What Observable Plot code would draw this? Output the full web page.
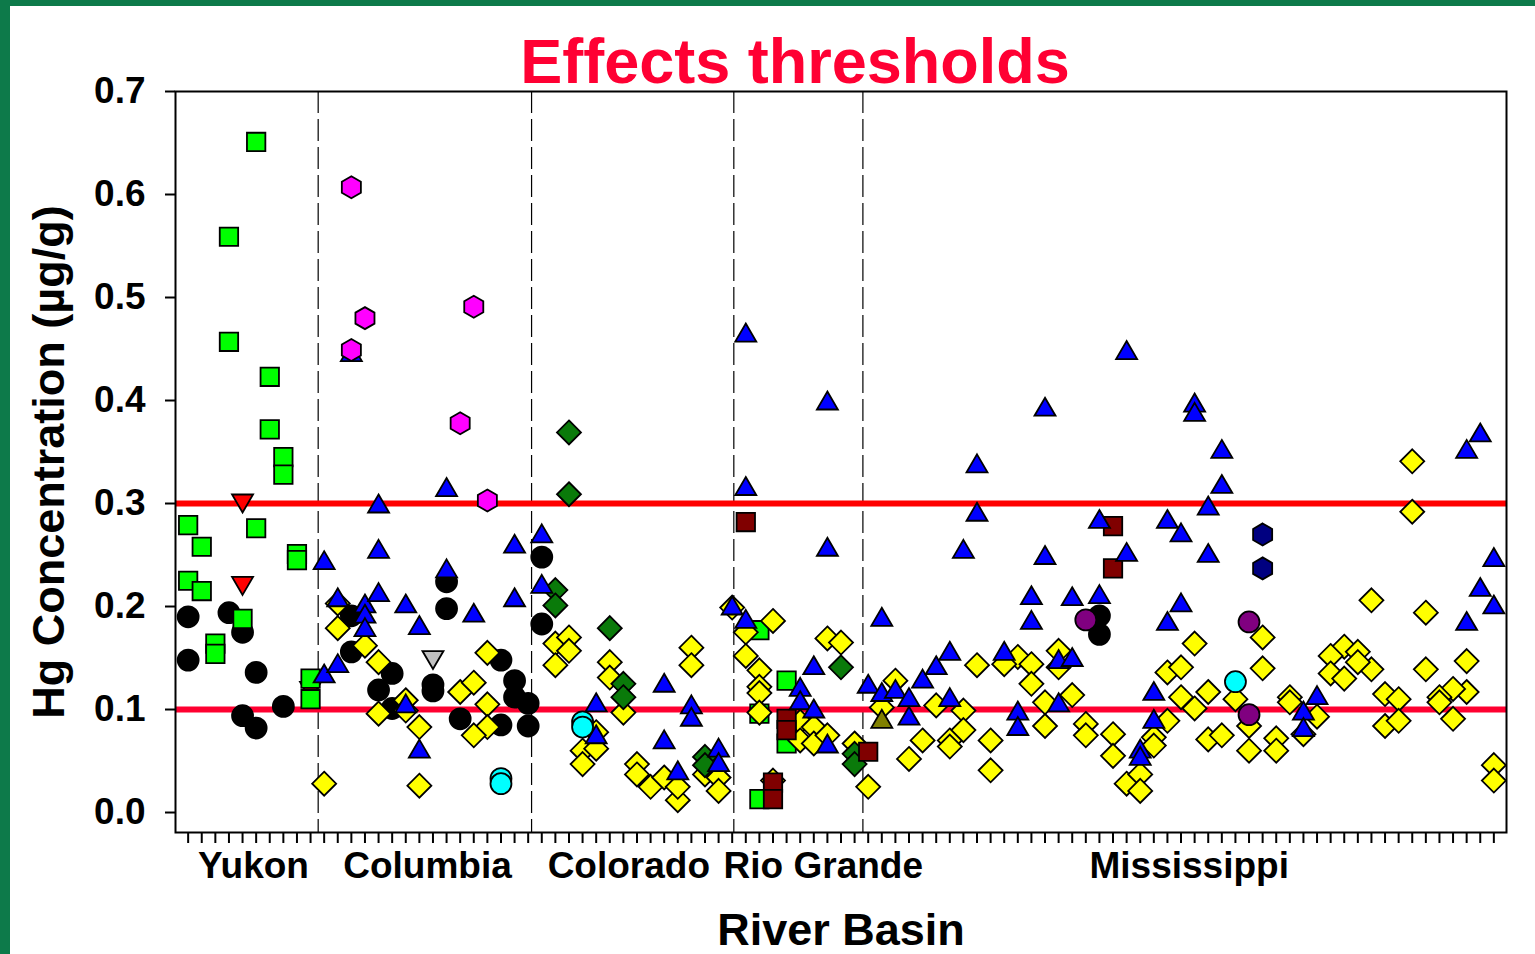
<!DOCTYPE html>
<html>
<head>
<meta charset="utf-8">
<script src="https://cdn.jsdelivr.net/npm/d3@7"></script>
<script src="https://cdn.jsdelivr.net/npm/@observablehq/plot@0.6"></script>
<style>
  html, body { margin: 0; padding: 0; background: #fff; overflow: hidden; }
  #wrap { position: relative; width: 1535px; height: 954px; }
  #wrap svg { display: block; }
  .bar { position: absolute; background: #0d7a4a; }
</style>
</head>
<body>
<div id="wrap">
  <div class="bar" style="left:0;top:0;width:1535px;height:6px;"></div>
  <div class="bar" style="left:0;top:0;width:10px;height:954px;"></div>
</div>
<script>
// ---- Data (site index along the x axis, Hg concentration in µg/g) ----
const basinNames = ["Yukon", "Columbia", "Colorado", "Rio Grande", "Mississippi"];
const basinLabelPos = [5.8, 18.6, 33.4, 47.7, 74.6];
const basinBoundaries = [10.56, 26.25, 41.12, 50.61];
const thresholds = [0.1, 0.3];
const yTicks = [0, 0.1, 0.2, 0.3, 0.4, 0.5, 0.6, 0.7];
const siteTicks = d3.range(1, 98);

const blackCircles = [
  [1,0.190],[1,0.148],[4,0.194],[5,0.175],[6,0.136],[5,0.094],[6,0.082],[8,0.103],
  [13,0.191],[13,0.156],[16,0.135],[15,0.119],[16,0.101],[19,0.124],[19,0.118],[20,0.224],
  [20,0.198],[21,0.091],[24,0.148],[25,0.128],[25,0.112],[26,0.106],[24,0.085],[26,0.084],
  [27,0.248],[27,0.183],[68,0.191],[68,0.173]
];
const redDownTriangles = [[5,0.300],[5,0.220],[10,0.118]];
const limeSquares = [
  [6,0.651],[4,0.559],[4,0.457],[7,0.423],[7,0.372],[8,0.345],[8,0.328],[1,0.279],[6,0.276],
  [2,0.258],[9,0.251],[9,0.245],[1,0.225],[2,0.215],[5,0.188],[3,0.164],[3,0.154],[10,0.130],
  [10,0.110],[45,0.128],[43,0.177],[43,0.096],[45,0.067],[43,0.013]
];
const yellowDiamonds = [
  [11,0.028],[18,0.026],[12,0.179],[12,0.203],[14,0.162],[15,0.146],[15,0.096],[17,0.109],
  [17,0.099],[18,0.083],[21,0.117],[22,0.126],[23,0.155],[23,0.105],[23,0.083],[22,0.075],
  [28,0.164],[29,0.170],[29,0.157],[28,0.143],[32,0.146],[32,0.131],[33,0.097],[31,0.078],
  [30,0.060],[31,0.062],[30,0.047],[34,0.047],[34,0.037],[35,0.025],[36,0.034],[37,0.012],
  [37,0.025],[38,0.160],[38,0.143],[39,0.037],[40,0.034],[40,0.021],
  [41,0.199],[44,0.186],[42,0.175],[42,0.152],[43,0.138],[43,0.122],[43,0.116],[43,0.097],
  [48,0.169],[49,0.165],[46,0.088],[47,0.083],[46,0.070],[47,0.067],[48,0.075],[50,0.067],[44,0.031],
  [51,0.025],[53,0.128],[52,0.102],[55,0.070],[54,0.052],[56,0.104],[57,0.070],[57,0.064],
  [58,0.099],[58,0.080],[59,0.143],[60,0.070],[60,0.041],
  [91,0.341],[91,0.292],[88,0.206],[92,0.194],[80,0.170],[75,0.164],[80,0.140],[86,0.161],
  [87,0.156],[85,0.152],[85,0.135],[86,0.130],[88,0.139],[92,0.139],[95,0.147],[95,0.117],
  [94,0.120],[93,0.112],[93,0.107],[94,0.091],[89,0.115],[90,0.110],[89,0.084],[90,0.089],
  [97,0.046],[97,0.031],[65,0.157],[62,0.151],[61,0.144],[63,0.144],[63,0.125],[65,0.141],
  [66,0.114],[64,0.107],[64,0.084],[67,0.086],[67,0.075],[69,0.076],[69,0.055],[70,0.028],
  [71,0.037],[71,0.021],[72,0.073],[72,0.065],[73,0.136],[74,0.141],[74,0.112],[73,0.089],
  [75,0.101],[76,0.117],[76,0.071],[77,0.075],[78,0.110],[79,0.084],[79,0.060],[81,0.072],
  [81,0.060],[82,0.112],[82,0.107],[84,0.093],[83,0.076],[87,0.146]
];
const darkGreenDiamonds = [
  [29,0.369],[29,0.309],[28,0.216],[28,0.201],[32,0.179],[33,0.125],[33,0.112],[39,0.054],
  [39,0.046],[49,0.141],[50,0.057],[50,0.047]
];
const darkRedSquares = [[42,0.282],[45,0.091],[45,0.080],[44,0.029],[44,0.013],[51,0.059],[69,0.278],[69,0.237]];
const blueTriangles = [
  [11,0.245],[11,0.135],[12,0.145],[12,0.209],[14,0.203],[14,0.193],[14,0.180],[15,0.300],
  [15,0.256],[15,0.214],[17,0.203],[18,0.182],[18,0.062],[17,0.106],[20,0.316],[20,0.237],
  [22,0.194],[25,0.261],[25,0.209],[13,0.447],
  [27,0.271],[27,0.222],[31,0.107],[31,0.076],[36,0.126],[36,0.071],[38,0.105],[38,0.093],
  [37,0.041],[40,0.063],[40,0.049],
  [42,0.466],[42,0.317],[48,0.400],[48,0.258],[41,0.201],[42,0.188],[46,0.122],[46,0.109],
  [47,0.143],[47,0.101],[48,0.067],
  [52,0.190],[51,0.125],[52,0.117],[53,0.120],[54,0.112],[54,0.094],[55,0.130],[56,0.143],
  [57,0.157],[57,0.112],[59,0.339],[59,0.292],[58,0.256],[61,0.157],[70,0.449],[64,0.394],
  [75,0.398],[75,0.389],[77,0.353],[77,0.319],[76,0.298],[68,0.285],[73,0.285],[74,0.272],
  [70,0.253],[76,0.252],[64,0.250],[96,0.369],[95,0.353],[97,0.248],[96,0.219],[97,0.202],
  [95,0.186],[63,0.211],[63,0.187],[66,0.210],[68,0.212],[74,0.204],[73,0.186],[65,0.149],
  [66,0.151],[72,0.118],[72,0.091],[62,0.099],[62,0.084],[65,0.107],[71,0.062],[71,0.055],
  [83,0.099],[84,0.114],[83,0.083]
];
const greyDownTriangles = [[19,0.148]];
const cyanCircles = [[24,0.033],[24,0.028],[30,0.088],[30,0.083],[78,0.127]];
const magentaHexagons = [[13,0.607],[14,0.480],[13,0.449],[22,0.491],[21,0.378],[23,0.303]];
const purpleCircles = [[67,0.187],[79,0.185],[79,0.095]];
const navyHexagons = [[80,0.270],[80,0.237]];
const oliveTriangles = [[52,0.091]];

// ---- Symbols ----
const rad = size => Math.sqrt(size / Math.PI) / 10;
const symSquare = {draw(c, size) { const h = 9.2 * rad(size); c.moveTo(-h,-h); c.lineTo(h,-h); c.lineTo(h,h); c.lineTo(-h,h); c.closePath(); }};
const symCircle = {draw(c, size) { const r = 10.5 * rad(size); c.moveTo(r,0); c.arc(0,0,r,0,2*Math.PI); c.closePath(); }};
const symTriUp = {draw(c, size) { const k = rad(size), w = 10.5*k, h = 9*k; c.moveTo(0,-h); c.lineTo(w,h); c.lineTo(-w,h); c.closePath(); }};
const symTriDown = {draw(c, size) { const k = rad(size), w = 10.5*k, h = 9*k; c.moveTo(0,h); c.lineTo(w,-h); c.lineTo(-w,-h); c.closePath(); }};
const symDiamond = {draw(c, size) { const d = 12 * rad(size); c.moveTo(0,-d); c.lineTo(d,0); c.lineTo(0,d); c.lineTo(-d,0); c.closePath(); }};
const symHex = {draw(c, size) { const R = 11 * rad(size); for (let i = 0; i < 6; i++) { const a = -Math.PI/2 + i*Math.PI/3; const px = R*Math.cos(a), py = R*Math.sin(a); if (i === 0) c.moveTo(px,py); else c.lineTo(px,py); } c.closePath(); }};

const series = (data, symbol, fill) => Plot.dot(data, {
  x: d => d[0], y: d => d[1], symbol, r: 10, fill, stroke: "#000", strokeWidth: 1.8
});

const font = "Liberation Sans, Arial, Helvetica, sans-serif";

const chart = Plot.plot({
  width: 1535,
  height: 954,
  marginLeft: 175,
  marginRight: 29,
  marginTop: 91,
  marginBottom: 122,
  style: {fontFamily: font, background: "transparent", overflow: "visible", color: "#000"},
  x: {domain: [0.07, 97.93]},
  y: {domain: [-0.0194, 0.7]},
  marks: [
    Plot.ruleX(basinBoundaries, {stroke: "#000", strokeWidth: 1.2, strokeDasharray: "22,6"}),
    Plot.ruleY(thresholds, {stroke: (d, i) => i === 0 ? "#ff0030" : "#ff0000", strokeWidth: 6}),
    series(blackCircles, symCircle, "#000000"),
    series(redDownTriangles, symTriDown, "#ff0000"),
    series(limeSquares, symSquare, "#00ff00"),
    series(yellowDiamonds, symDiamond, "#ffff00"),
    series(darkGreenDiamonds, symDiamond, "#0a7a0a"),
    series(darkRedSquares, symSquare, "#800000"),
    series(blueTriangles, symTriUp, "#0000ff"),
    series(greyDownTriangles, symTriDown, "#c0c0c0"),
    series(cyanCircles, symCircle, "#00ffff"),
    series(magentaHexagons, symHex, "#ff00ff"),
    series(purpleCircles, symCircle, "#800080"),
    series(navyHexagons, symHex, "#000080"),
    series(oliveTriangles, symTriUp, "#808000"),
    Plot.frame({stroke: "#000", strokeWidth: 2}),
    Plot.axisY({ticks: yTicks, tickFormat: d3.format(".1f"), tickSize: 10, tickPadding: 20,
      fontSize: 37, fontWeight: "bold", strokeWidth: 2, label: null}),
    Plot.axisX({ticks: siteTicks, tickFormat: () => "", tickSize: 11, tickPadding: 0,
      strokeWidth: 2, label: null}),
    Plot.text(basinNames, {x: basinLabelPos, text: d => d, frameAnchor: "bottom", dy: 34,
      lineAnchor: "middle", textAnchor: "middle", fontSize: 37, fontWeight: "bold", fill: "#000"}),
    Plot.text(["River Basin"], {text: d => d, frameAnchor: "bottom", dy: 98,
      lineAnchor: "middle", textAnchor: "middle", fontSize: 45, fontWeight: "bold", fill: "#000"}),
    Plot.text(["Hg Concentration (µg/g)"], {text: d => d, frameAnchor: "left", dx: -126, rotate: -90,
      lineAnchor: "middle", textAnchor: "middle", fontSize: 45, fontWeight: "bold", fill: "#000"}),
    Plot.text(["Effects thresholds"], {text: d => d, frameAnchor: "top", dx: -46, dy: -29,
      lineAnchor: "middle", textAnchor: "middle", fontSize: 63, fontWeight: "bold", fill: "#ff0033"})
  ]
});
document.getElementById("wrap").appendChild(chart);
</script>
</body>
</html>
